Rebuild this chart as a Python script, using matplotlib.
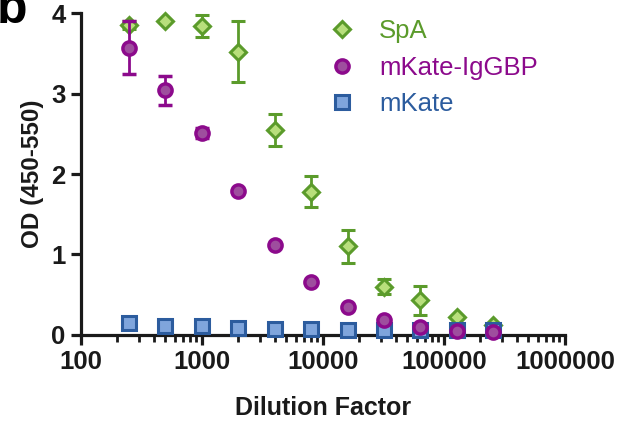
import numpy as np
import matplotlib
matplotlib.use("Agg")
from matplotlib import pyplot as plt

plt.rcParams['font.family'] = ['Liberation Sans', 'DejaVu Sans']
plt.rcParams['font.weight'] = 'bold'

dilution = [250, 500, 1000, 2000, 4000, 8000, 16000, 32000, 64000, 128000, 256000]

spa = [3.85, 3.90, 3.84, 3.52, 2.55, 1.78, 1.10, 0.60, 0.43, 0.22, 0.12]
spa_err = [0.05, 0.0, 0.14, 0.38, 0.20, 0.19, 0.21, 0.09, 0.18, 0.0, 0.0]

igg = [3.57, 3.04, 2.51, 1.79, 1.12, 0.66, 0.35, 0.19, 0.10, 0.05, 0.03]
igg_err = [0.33, 0.18, 0.06, 0.0, 0.0, 0.0, 0.0, 0.0, 0.0, 0.0, 0.0]

mkate = [0.145, 0.11, 0.115, 0.09, 0.075, 0.07, 0.065, 0.065, 0.06, 0.06, 0.06]
mkate_err = [0.0] * 11

green, green_f = '#5b9b2b', '#b8df7c'
purple, purple_f = '#8c0a8c', '#9e4e9e'
blue, blue_f = '#2c5c9e', '#7fa5dc'

fig = plt.figure(figsize=(6.27, 4.25), dpi=100)
ax = fig.add_axes([0.129, 0.212, 0.772, 0.757])

ax.errorbar(dilution, spa, yerr=spa_err, fmt='D', color=green, mfc=green_f, mec=green,
            ms=8, mew=2.2, elinewidth=2, capsize=5, capthick=2, label='SpA',
            zorder=3, clip_on=False)
ax.errorbar(dilution, mkate, yerr=mkate_err, fmt='s', color=blue, mfc=blue_f, mec=blue,
            ms=9.5, mew=2.2, elinewidth=2, capsize=5, capthick=2, label='mKate',
            zorder=4, clip_on=False)
ax.errorbar(dilution, igg, yerr=igg_err, fmt='o', color=purple, mfc=purple_f, mec=purple,
            ms=9.5, mew=2.5, elinewidth=2, capsize=5, capthick=2, label='mKate-IgGBP',
            zorder=5, clip_on=False)

ax.set_xscale('log')
ax.set_xlim(100, 1e6)
ax.set_ylim(0, 4)
ax.set_xticks([100, 1000, 10000, 100000, 1000000])
ax.set_xticklabels(['100', '1000', '10000', '100000', '1000000'])
ax.set_yticks([0, 1, 2, 3, 4])

for s in ['top', 'right']:
    ax.spines[s].set_visible(False)
for s in ['left', 'bottom']:
    ax.spines[s].set_linewidth(2.3)
    ax.spines[s].set_color('#1a1a1a')

ax.tick_params(which='major', length=7, width=2.3, labelsize=18.5, color='#1a1a1a', pad=4)
ax.tick_params(which='minor', length=5, width=2.0, color='#1a1a1a')
ax.tick_params(axis='y', which='minor', left=False)
for lab in ax.get_xticklabels() + ax.get_yticklabels():
    lab.set_fontweight('bold')
    lab.set_color('#1a1a1a')

ax.set_xlabel('Dilution Factor', fontsize=18, fontweight='bold', labelpad=16, color='#1a1a1a')
ax.set_ylabel('OD (450-550)', fontsize=17.5, fontweight='bold', labelpad=5, color='#1a1a1a')

handles, labels = ax.get_legend_handles_labels()
order = [0, 2, 1]
h = [handles[i][0] for i in order]
l = [labels[i] for i in order]
leg = ax.legend(h, l, loc='upper left', bbox_to_anchor=(0.465, 1.053), frameon=False,
                handlelength=1.0, handletextpad=0.94, labelspacing=0.48, markerscale=1.0,
                prop={'size': 18.5, 'weight': 'normal'})
for txt, c in zip(leg.get_texts(), [green, purple, blue]):
    txt.set_color(c)

fig.text(-0.005, 0.946, 'b', fontsize=36, fontweight='bold', ha='left', va='baseline')

fig.savefig('out.png', dpi=100)
